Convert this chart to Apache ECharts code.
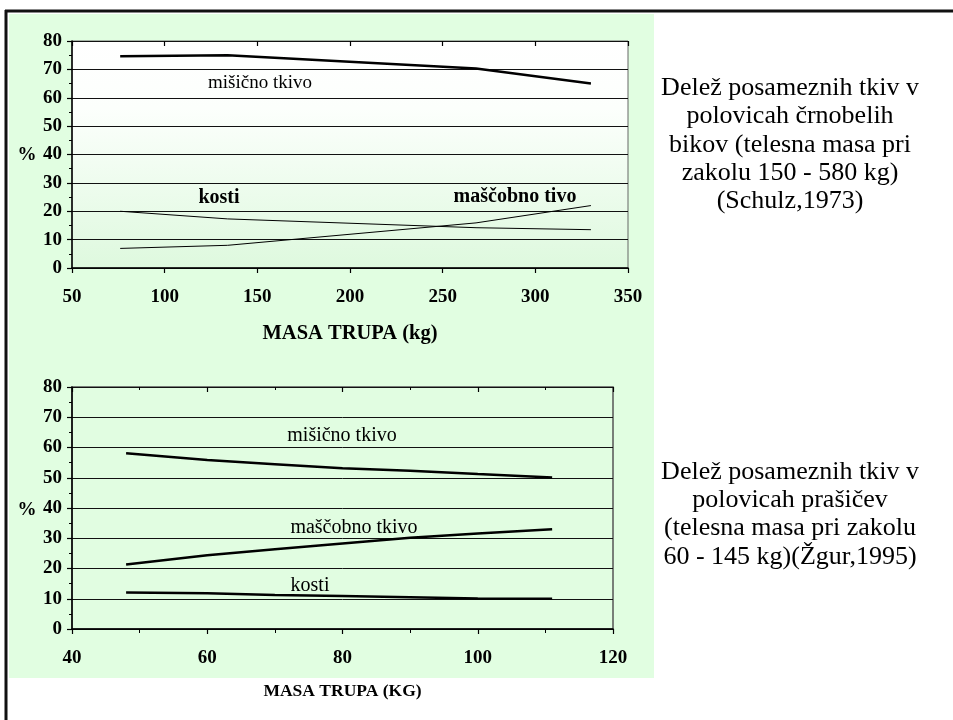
<!DOCTYPE html>
<html>
<head>
<meta charset="utf-8">
<script src="https://cdn.jsdelivr.net/npm/echarts@6/dist/echarts.min.js"></script>
<style>
  html, body { margin: 0; padding: 0; background: #fff; }
  #chart { width: 953px; height: 720px; }
</style>
</head>
<body>
<div id="chart"></div>
<script>
// zgornji graf - biki (Schulz, 1973)
const bikiMasa = [76, 134, 268, 330];
const bikiMisicno = [74.6, 75.0, 70.3, 65.0];
const bikiKosti = [20.0, 17.3, 14.2, 13.5];
const bikiMascobno = [6.9, 8.0, 15.9, 22.0];

// spodnji graf - prasici (Zgur, 1995)
const prasiciMasa = [48, 60, 70, 80, 90, 100, 111];
const prasiciMisicno = [58.1, 55.9, 54.5, 53.1, 52.3, 51.2, 50.1];
const prasiciMascobno = [21.3, 24.4, 26.4, 28.3, 30.2, 31.6, 33.0];
const prasiciKosti = [12.1, 11.8, 11.2, 10.9, 10.5, 10.1, 10.0];

const textBiki = ['Delež posameznih tkiv v', 'polovicah črnobelih', 'bikov (telesna masa pri', 'zakolu 150 - 580 kg)', '(Schulz,1973)'];
const textPrasici = ['Delež posameznih tkiv v', 'polovicah prašičev', '(telesna masa pri zakolu', '60 - 145 kg)(Žgur,1995)'];

const serif = '"Liberation Serif", "DejaVu Serif", serif';
const panelGreen = '#e1fee1';

function pairs(xs, ys) {
  return xs.map((x, i) => [x, ys[i]]);
}

function mainX(grid, min, max, interval, name, nameSize, nameGap, minor) {
  return {
    type: 'value', gridIndex: grid, min: min, max: max, interval: interval,
    name: name, nameLocation: 'middle', nameGap: nameGap,
    nameTextStyle: { fontFamily: serif, fontWeight: 'bold', fontSize: nameSize, color: '#000' },
    axisLine: { show: true, lineStyle: { color: '#000', width: 1.5 } },
    axisTick: { show: true, inside: false, length: 5, lineStyle: { color: '#000', width: 1.2 } },
    minorTick: { show: minor, splitNumber: 2, length: 4, lineStyle: { color: '#000', width: 1 } },
    axisLabel: { fontFamily: serif, fontWeight: 'bold', fontSize: 19, color: '#000', margin: 20 },
    splitLine: { show: false }
  };
}

// druga os samo za crtice, ki segajo navzgor cez os
function tickX(grid, min, max, interval, minor) {
  return {
    type: 'value', gridIndex: grid, min: min, max: max, interval: interval,
    axisLine: { show: false },
    axisTick: { show: true, inside: true, length: 5, lineStyle: { color: '#000', width: 1.2 } },
    minorTick: { show: minor, splitNumber: 2, length: 3, lineStyle: { color: '#000', width: 1 } },
    axisLabel: { show: false },
    splitLine: { show: false }
  };
}

function yAxis(grid) {
  return {
    type: 'value', gridIndex: grid, min: 0, max: 80, interval: 10,
    axisLine: { show: true, lineStyle: { color: '#000', width: 1.5 } },
    axisTick: { show: true, length: 5, lineStyle: { color: '#000', width: 1.2 } },
    minorTick: { show: true, splitNumber: 2, length: 3, lineStyle: { color: '#000', width: 1 } },
    axisLabel: { fontFamily: serif, fontWeight: 'bold', fontSize: 19, color: '#000', margin: 10 },
    splitLine: { show: true, lineStyle: { color: '#111', width: 1 } }
  };
}

function line(xi, yi, data, width) {
  return {
    type: 'line', xAxisIndex: xi, yAxisIndex: yi, data: data,
    showSymbol: false, smooth: false, animation: false,
    lineStyle: { color: '#000', width: width }
  };
}

const graphics = [
  { type: 'rect', z: -10, shape: { x: 9, y: 14, width: 645, height: 664 }, style: { fill: panelGreen } },
  { type: 'line', z: 50, shape: { x1: 5, y1: 11, x2: 953, y2: 11 }, style: { stroke: '#111', lineWidth: 3 } },
  { type: 'line', z: 50, shape: { x1: 6, y1: 10, x2: 6, y2: 720 }, style: { stroke: '#111', lineWidth: 3 } }
];

function placeText(lines, cx, y0, lh) {
  lines.forEach((t, i) => {
    graphics.push({
      type: 'text', z: 100,
      style: { text: t, x: cx, y: y0 + i * lh, fill: '#000', font: '26px ' + serif, textAlign: 'center', textVerticalAlign: 'middle' }
    });
  });
}
placeText(textBiki, 790, 88, 28.4);
placeText(textPrasici, 790, 472, 28.3);

// oznake v grafih
function txt(t, x, y, size, bold) {
  graphics.push({
    type: 'text', z: 100,
    style: { text: t, x: x, y: y, fill: '#000', font: (bold ? 'bold ' : '') + size + 'px ' + serif, textAlign: 'center', textVerticalAlign: 'middle' }
  });
}
txt('mišično tkivo', 260, 83, 19, false);
txt('kosti', 219, 198, 20, true);
txt('maščobno tivo', 515, 197, 20, true);
txt('mišično tkivo', 342, 436, 20, false);
txt('maščobno tkivo', 354, 528, 20, false);
txt('kosti', 310, 586, 20, false);
txt('%', 27, 155, 19, true);
txt('%', 27, 510, 19, true);

const chart = echarts.init(document.getElementById('chart'));
chart.setOption({
  animation: false,
  grid: [
    {
      left: 72, top: 41, width: 556, height: 227, show: true, borderColor: '#666', borderWidth: 1,
      backgroundColor: new echarts.graphic.LinearGradient(0, 0, 0, 1, [
        { offset: 0, color: '#ffffff' },
        { offset: 0.3, color: '#fcfffc' },
        { offset: 1, color: '#def9de' }
      ])
    },
    {
      left: 72, top: 387, width: 541, height: 242, show: true, borderColor: '#555', borderWidth: 1.5,
      backgroundColor: '#e1fde1'
    }
  ],
  xAxis: [
    mainX(0, 50, 350, 50, 'MASA TRUPA (kg)', 20.5, 55, false),
    tickX(0, 50, 350, 50, false),
    mainX(1, 40, 120, 20, 'MASA TRUPA (KG)', 17.5, 53, true),
    tickX(1, 40, 120, 20, true)
  ],
  yAxis: [yAxis(0), yAxis(1)],
  series: [
    line(0, 0, pairs(bikiMasa, bikiMisicno), 2.5),
    line(0, 0, pairs(bikiMasa, bikiKosti), 1),
    line(0, 0, pairs(bikiMasa, bikiMascobno), 1),
    line(2, 1, pairs(prasiciMasa, prasiciMisicno), 2.5),
    line(2, 1, pairs(prasiciMasa, prasiciMascobno), 2.5),
    line(2, 1, pairs(prasiciMasa, prasiciKosti), 2.5)
  ],
  graphic: graphics
});
</script>
</body>
</html>
